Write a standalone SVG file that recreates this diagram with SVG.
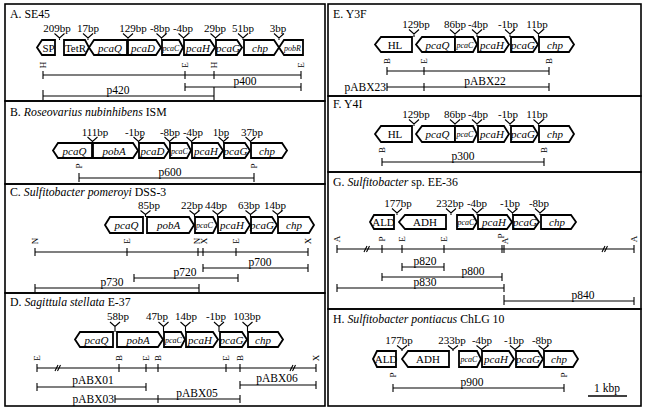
<svg xmlns="http://www.w3.org/2000/svg" width="646" height="410" viewBox="0 0 646 410">
<style>
.box{fill:none;stroke:#000;stroke-width:1.6}
.g{fill:#fff;stroke:#000;stroke-width:1.8;stroke-linejoin:miter}
.ln{stroke:#000;stroke-width:1.1;fill:none}
text{font-family:"Liberation Serif","Times New Roman",serif;fill:#000}
.ti{font-size:11.8px}
.bp{font-size:11px;text-anchor:middle}
.gn{font-size:11px;font-style:italic;text-anchor:middle}
.gs{font-size:8px;font-style:italic;text-anchor:middle}
.gu{font-size:11px;text-anchor:middle}
.s{font-size:9px;text-anchor:middle}
.pl{font-size:11.5px;text-anchor:middle}
.pe{font-size:11.5px;text-anchor:end}
</style>
<rect width="646" height="410" fill="#fff"/>
<g id="panels">
<rect class="box" x="5" y="4" width="320" height="97"/>
<rect class="box" x="5" y="101" width="320" height="83"/>
<rect class="box" x="5" y="184" width="320" height="109"/>
<rect class="box" x="5" y="293" width="320" height="113"/>
<rect class="box" x="328" y="4" width="313" height="92"/>
<rect class="box" x="328" y="96" width="313" height="76"/>
<rect class="box" x="328" y="172" width="313" height="137"/>
<rect class="box" x="328" y="309" width="313" height="97"/>
</g>
<g id="titles">
<text class="ti" x="10" y="18">A. SE45</text>
<text class="ti" x="10" y="116">B. <tspan font-style="italic">Roseovarius nubinhibens</tspan> ISM</text>
<text class="ti" x="10" y="195.5">C. <tspan font-style="italic">Sulfitobacter pomeroyi</tspan> DSS-3</text>
<text class="ti" x="10" y="306">D. <tspan font-style="italic">Sagittula stellata</tspan> E-37</text>
<text class="ti" x="333" y="18">E. Y3F</text>
<text class="ti" x="333" y="108">F. Y4I</text>
<text class="ti" x="333" y="186">G. <tspan font-style="italic">Sulfitobacter</tspan> sp. EE-36</text>
<text class="ti" x="333" y="323">H. <tspan font-style="italic">Sulfitobacter pontiacus</tspan> ChLG 10</text>
</g>

<!-- Panel A genes -->
<g id="A-SP"><polygon class="g" points="37,47.5 42,40 55,40 55,55 42,55"/><text class="gu" x="48.5" y="51.5">SP</text></g>
<g id="A-TetR"><polygon class="g" points="64,40 85,40 89,47.5 85,55 64,55"/><text class="gu" x="75.5" y="51.5" font-size="10">TetR</text></g>
<g id="A-pcaQ"><polygon class="g" points="89,47.5 94,40 127,40 127,55 94,55"/><text class="gn" x="110" y="51.5">pcaQ</text></g>
<g id="A-pcaD"><polygon class="g" points="128,40 156,40 161,47.5 156,55 128,55"/><text class="gn" x="143" y="51.5">pcaD</text></g>
<g id="A-pcaC"><polygon class="g" points="162,40 179,40 183,47.5 179,55 162,55"/><text class="gs" x="171" y="50.5">pcaC</text></g>
<g id="A-pcaH"><polygon class="g" points="184,40 210,40 215,47.5 210,55 184,55"/><text class="gn" x="198" y="51.5">pcaH</text></g>
<g id="A-pcaG"><polygon class="g" points="216,40 237,40 242,47.5 237,55 216,55"/><text class="gn" x="228" y="51.5">pcaG</text></g>
<g id="A-chp"><polygon class="g" points="244,40 274,40 279,47.5 274,55 244,55"/><text class="gn" x="260" y="51.5">chp</text></g>
<g id="A-pobR"><polygon class="g" points="279,47.5 284,40 303,40 303,55 284,55"/><text class="gs" x="292.5" y="50.5" font-size="8.5">pobR</text></g>
<g id="A-bp">
<text class="bp" x="57" y="32">209bp</text><text class="bp" x="88" y="32">17bp</text><text class="bp" x="133" y="32">129bp</text><text class="bp" x="160" y="32">-8bp</text><text class="bp" x="183" y="32">-4bp</text><text class="bp" x="215" y="32">29bp</text><text class="bp" x="243" y="32">51bp</text><text class="bp" x="278" y="32">3bp</text>
</g>
<g id="A-sites">
<text class="s" transform="translate(43,65) rotate(-90)" dy="0.35em">H</text>
<text class="s" transform="translate(185,65) rotate(-90)" dy="0.35em">E</text>
<text class="s" transform="translate(214,65) rotate(-90)" dy="0.35em">H</text>
<text class="s" transform="translate(301,65) rotate(-90)" dy="0.35em">E</text>
<text class="pl" x="245" y="85">p400</text>
<text class="pl" x="118" y="94">p420</text>
</g>

<!-- Panel B genes -->
<g id="B-pcaQ"><polygon class="g" points="53,150.5 58,143 92,143 92,158 58,158"/><text class="gn" x="74.5" y="154.5">pcaQ</text></g>
<g id="B-pobA"><polygon class="g" points="93,143 133,143 138,150.5 133,158 93,158"/><text class="gn" x="114" y="154.5">pobA</text></g>
<g id="B-pcaD"><polygon class="g" points="139,143 164,143 169,150.5 164,158 139,158"/><text class="gn" x="152.5" y="154.5">pcaD</text></g>
<g id="B-pcaC"><polygon class="g" points="170,143 187,143 191,150.5 187,158 170,158"/><text class="gs" x="179.5" y="153.5">pcaC</text></g>
<g id="B-pcaH"><polygon class="g" points="192,143 218,143 223,150.5 218,158 192,158"/><text class="gn" x="206" y="154.5">pcaH</text></g>
<g id="B-pcaG"><polygon class="g" points="224,143 245,143 250,150.5 245,158 224,158"/><text class="gn" x="235.5" y="154.5">pcaG</text></g>
<g id="B-chp"><polygon class="g" points="251,143 282,143 287,150.5 282,158 251,158"/><text class="gn" x="267" y="154.5">chp</text></g>
<g id="B-bp">
<text class="bp" x="95" y="135.5">111bp</text><text class="bp" x="135" y="135.5">-1bp</text><text class="bp" x="170" y="135.5">-8bp</text><text class="bp" x="193" y="135.5">-4bp</text><text class="bp" x="221" y="135.5">1bp</text><text class="bp" x="252" y="135.5">37bp</text>
</g>
<g id="B-sites">
<text class="s" transform="translate(79,166) rotate(-90)" dy="0.35em">P</text>
<text class="s" transform="translate(254,166) rotate(-90)" dy="0.35em">P</text>
<text class="pl" x="170" y="176">p600</text>
</g>

<!-- Panel C genes -->
<g id="C-pcaQ"><polygon class="g" points="105,225 110,217 143,217 143,233 110,233"/><text class="gn" x="126.5" y="229">pcaQ</text></g>
<g id="C-pobA"><polygon class="g" points="147,217 189,217 194,225 189,233 147,233"/><text class="gn" x="168.5" y="229">pobA</text></g>
<g id="C-pcaC"><polygon class="g" points="195,217 213,217 217,225 213,233 195,233"/><text class="gs" x="204.5" y="228">pcaC</text></g>
<g id="C-pcaH"><polygon class="g" points="218,217 245,217 250,225 245,233 218,233"/><text class="gn" x="232" y="229">pcaH</text></g>
<g id="C-pcaG"><polygon class="g" points="251,217 272,217 277,225 272,233 251,233"/><text class="gn" x="262" y="229">pcaG</text></g>
<g id="C-chp"><polygon class="g" points="278,217 309,217 314,225 309,233 278,233"/><text class="gn" x="294" y="229">chp</text></g>
<g id="C-bp">
<text class="bp" x="149" y="209">85bp</text><text class="bp" x="192" y="209">22bp</text><text class="bp" x="216" y="209">44bp</text><text class="bp" x="249" y="209">63bp</text><text class="bp" x="275" y="209">14bp</text>
</g>
<g id="C-sites">
<text class="s" transform="translate(35,241) rotate(-90)" dy="0.35em">N</text>
<text class="s" transform="translate(127,241) rotate(-90)" dy="0.35em">E</text>
<text class="s" transform="translate(197,241) rotate(-90)" dy="0.35em">N</text>
<text class="s" transform="translate(204,241) rotate(-90)" dy="0.35em">X</text>
<text class="s" transform="translate(236,241) rotate(-90)" dy="0.35em">E</text>
<text class="s" transform="translate(308,241) rotate(-90)" dy="0.35em">X</text>
<text class="pl" x="260" y="266">p700</text>
<text class="pl" x="185" y="276">p720</text>
<text class="pl" x="112" y="286">p730</text>
</g>

<!-- Panel D genes -->
<g id="D-pcaQ"><polygon class="g" points="75,339.5 80,332 113,332 113,347 80,347"/><text class="gn" x="96.5" y="343.5">pcaQ</text></g>
<g id="D-pobA"><polygon class="g" points="117,332 158,332 163,339.5 158,347 117,347"/><text class="gn" x="138" y="343.5">pobA</text></g>
<g id="D-pcaC"><polygon class="g" points="164,332 181,332 185,339.5 181,347 164,347"/><text class="gs" x="173.5" y="342.5">pcaC</text></g>
<g id="D-pcaH"><polygon class="g" points="186,332 213,332 218,339.5 213,347 186,347"/><text class="gn" x="200" y="343.5">pcaH</text></g>
<g id="D-pcaG"><polygon class="g" points="220,332 242,332 247,339.5 242,347 220,347"/><text class="gn" x="231.5" y="343.5">pcaG</text></g>
<g id="D-chp"><polygon class="g" points="248,332 278,332 283,339.5 278,347 248,347"/><text class="gn" x="263" y="343.5">chp</text></g>
<g id="D-bp">
<text class="bp" x="118" y="320">58bp</text><text class="bp" x="157" y="320">47bp</text><text class="bp" x="186" y="320">14bp</text><text class="bp" x="216" y="320">-1bp</text><text class="bp" x="247" y="320">103bp</text>
</g>
<g id="D-sites">
<text class="s" transform="translate(37,358) rotate(-90)" dy="0.35em">E</text>
<text class="s" transform="translate(119,358) rotate(-90)" dy="0.35em">B</text>
<text class="s" transform="translate(146,358) rotate(-90)" dy="0.35em">E</text>
<text class="s" transform="translate(158,358) rotate(-90)" dy="0.35em">B</text>
<text class="s" transform="translate(226,358) rotate(-90)" dy="0.35em">E</text>
<text class="s" transform="translate(240,358) rotate(-90)" dy="0.35em">B</text>
<text class="s" transform="translate(316,358) rotate(-90)" dy="0.35em">X</text>
<text class="pl" x="93" y="384">pABX01</text>
<text class="pl" x="277" y="382">pABX06</text>
<text class="pe" x="114" y="403">pABX03</text>
<text class="pl" x="197" y="397">pABX05</text>
</g>

<!-- Panel E genes -->
<g id="E-HL"><polygon class="g" points="375,44.5 381,37 412,37 412,52 381,52"/><text class="gu" x="395" y="48.5">HL</text></g>
<g id="E-pcaQ"><polygon class="g" points="416,44.5 422,37 455,37 455,52 422,52"/><text class="gn" x="437.5" y="48.5">pcaQ</text></g>
<g id="E-pcaC"><polygon class="g" points="455,37 473,37 477,44.5 473,52 455,52"/><text class="gs" x="465" y="47.5">pcaC</text></g>
<g id="E-pcaH"><polygon class="g" points="478,37 504,37 509,44.5 504,52 478,52"/><text class="gn" x="492" y="48.5">pcaH</text></g>
<g id="E-pcaG"><polygon class="g" points="511,37 533,37 538,44.5 533,52 511,52"/><text class="gn" x="523" y="48.5">pcaG</text></g>
<g id="E-chp"><polygon class="g" points="539,37 569,37 574,44.5 569,52 539,52"/><text class="gn" x="555" y="48.5">chp</text></g>
<g id="E-bp">
<text class="bp" x="416" y="28">129bp</text><text class="bp" x="455" y="28">86bp</text><text class="bp" x="478" y="28">-4bp</text><text class="bp" x="508" y="28">-1bp</text><text class="bp" x="537" y="28">11bp</text>
</g>
<g id="E-sites">
<text class="s" transform="translate(387,61) rotate(-90)" dy="0.35em">B</text>
<text class="s" transform="translate(424,61) rotate(-90)" dy="0.35em">E</text>
<text class="s" transform="translate(549,61) rotate(-90)" dy="0.35em">B</text>
<text class="pe" x="386" y="91">pABX23</text>
<text class="pl" x="485" y="85">pABX22</text>
</g>

<!-- Panel F genes -->
<g id="F-HL"><polygon class="g" points="375,134 381,126 412,126 412,142 381,142"/><text class="gu" x="395" y="138">HL</text></g>
<g id="F-pcaQ"><polygon class="g" points="416,134 422,126 455,126 455,142 422,142"/><text class="gn" x="437.5" y="138">pcaQ</text></g>
<g id="F-pcaC"><polygon class="g" points="455,126 473,126 477,134 473,142 455,142"/><text class="gs" x="465" y="137">pcaC</text></g>
<g id="F-pcaH"><polygon class="g" points="478,126 504,126 509,134 504,142 478,142"/><text class="gn" x="492" y="138">pcaH</text></g>
<g id="F-pcaG"><polygon class="g" points="511,126 533,126 538,134 533,142 511,142"/><text class="gn" x="523" y="138">pcaG</text></g>
<g id="F-chp"><polygon class="g" points="539,126 569,126 574,134 569,142 539,142"/><text class="gn" x="555" y="138">chp</text></g>
<g id="F-bp">
<text class="bp" x="416" y="118">129bp</text><text class="bp" x="455" y="118">86bp</text><text class="bp" x="478" y="118">-4bp</text><text class="bp" x="508" y="118">-1bp</text><text class="bp" x="537" y="118">11bp</text>
</g>
<g id="F-sites">
<text class="s" transform="translate(382,150) rotate(-90)" dy="0.35em">B</text>
<text class="s" transform="translate(544,150) rotate(-90)" dy="0.35em">B</text>
<text class="pl" x="463" y="160">p300</text>
</g>

<!-- Panel G genes -->
<g id="G-ALD"><polygon class="g" points="370,222 374,215 394,215 394,229 374,229"/><text class="gu" x="383.5" y="225.5" font-size="9.5">ALD</text></g>
<g id="G-ADH"><polygon class="g" points="399,222 405,215 446,215 446,229 405,229"/><text class="gu" x="425" y="226">ADH</text></g>
<g id="G-pcaC"><polygon class="g" points="457,215 473,215 477,222 473,229 457,229"/><text class="gs" x="466" y="225">pcaC</text></g>
<g id="G-pcaH"><polygon class="g" points="478,215 507,215 512,222 507,229 478,229"/><text class="gn" x="494" y="226">pcaH</text></g>
<g id="G-pcaG"><polygon class="g" points="513,215 534,215 539,222 534,229 513,229"/><text class="gn" x="525" y="226">pcaG</text></g>
<g id="G-chp"><polygon class="g" points="541,215 571,215 576,222 571,229 541,229"/><text class="gn" x="557" y="226">chp</text></g>
<g id="G-bp">
<text class="bp" x="398" y="207">177bp</text><text class="bp" x="450" y="207">232bp</text><text class="bp" x="477" y="207">-4bp</text><text class="bp" x="510" y="207">-1bp</text><text class="bp" x="539" y="207">-8bp</text>
</g>
<g id="G-sites">
<text class="s" transform="translate(337,239) rotate(-90)" dy="0.35em">A</text>
<text class="s" transform="translate(382,239) rotate(-90)" dy="0.35em">P</text>
<text class="s" transform="translate(402,239) rotate(-90)" dy="0.35em">E</text>
<text class="s" transform="translate(444,239) rotate(-90)" dy="0.35em">E</text>
<text class="s" transform="translate(501,236) rotate(-90)" dy="0.35em">P</text>
<text class="s" transform="translate(505,241) rotate(-90)" dy="0.35em">A</text>
<text class="s" transform="translate(634,239) rotate(-90)" dy="0.35em">A</text>
<text class="pl" x="425" y="265">p820</text>
<text class="pl" x="473" y="275">p800</text>
<text class="pl" x="425" y="286">p830</text>
<text class="pl" x="583" y="299">p840</text>
</g>

<!-- Panel H genes -->
<g id="H-ALD"><polygon class="g" points="373,359 377,351 396,351 396,367 377,367"/><text class="gu" x="386" y="362.5" font-size="9.5">ALD</text></g>
<g id="H-ADH"><polygon class="g" points="402,359 408,351 449,351 449,367 408,367"/><text class="gu" x="428" y="363">ADH</text></g>
<g id="H-pcaC"><polygon class="g" points="459,351 477,351 481,359 477,367 459,367"/><text class="gs" x="469" y="362">pcaC</text></g>
<g id="H-pcaH"><polygon class="g" points="482,351 509,351 514,359 509,367 482,367"/><text class="gn" x="496" y="363">pcaH</text></g>
<g id="H-pcaG"><polygon class="g" points="516,351 538,351 543,359 538,367 516,367"/><text class="gn" x="528" y="363">pcaG</text></g>
<g id="H-chp"><polygon class="g" points="544,351 573,351 578,359 573,367 544,367"/><text class="gn" x="559" y="363">chp</text></g>
<g id="H-bp">
<text class="bp" x="399" y="344">177bp</text><text class="bp" x="452" y="344">233bp</text><text class="bp" x="482" y="344">-4bp</text><text class="bp" x="514" y="344">-1bp</text><text class="bp" x="542" y="344">-8bp</text>
</g>
<g id="H-sites">
<text class="s" transform="translate(393,375) rotate(-90)" dy="0.35em">P</text>
<text class="s" transform="translate(564,375) rotate(-90)" dy="0.35em">P</text>
<text class="pl" x="472" y="386">p900</text>
<text class="pl" x="607" y="392">1 kbp</text>
</g>

<g id="connectors" class="ln">
<path d="M54.5,33.5 L59.5,38 L64.5,33.5 M59.5,38 V40 M83,33.5 L88,38 L93,33.5 M88,38 V40 M123,33.5 L128,38 L133,33.5 M128,38 V40 M156.5,33.5 L161.5,38 L166.5,33.5 M161.5,38 V40 M178.5,33.5 L183.5,38 L188.5,33.5 M183.5,38 V40 M210.5,33.5 L215.5,38 L220.5,33.5 M215.5,38 V40 M238,33.5 L243,38 L248,33.5 M243,38 V40 M274,33.5 L279,38 L284,33.5 M279,38 V40"/>
<path d="M87.5,137 L92.5,141.5 L97.5,137 M92.5,141.5 V143 M133.5,137 L138.5,141.5 L143.5,137 M138.5,141.5 V143 M164.5,137 L169.5,141.5 L174.5,137 M169.5,141.5 V143 M186.5,137 L191.5,141.5 L196.5,137 M191.5,141.5 V143 M218.5,137 L223.5,141.5 L228.5,137 M223.5,141.5 V143 M245.5,137 L250.5,141.5 L255.5,137 M250.5,141.5 V143"/>
<path d="M140.5,210.5 L145.5,214.5 L150.5,210.5 M145.5,214.5 V217 M189.5,210.5 L194.5,214.5 L199.5,210.5 M194.5,214.5 V217 M212.5,210.5 L217.5,214.5 L222.5,210.5 M217.5,214.5 V217 M245.5,210.5 L250.5,214.5 L255.5,210.5 M250.5,214.5 V217 M272.5,210.5 L277.5,214.5 L282.5,210.5 M277.5,214.5 V217"/>
<path d="M110,322 L115,326.5 L120,322 M115,326.5 V332 M158.5,322 L163.5,326.5 L168.5,322 M163.5,326.5 V332 M180.5,322 L185.5,326.5 L190.5,322 M185.5,326.5 V332 M214,322 L219,326.5 L224,322 M219,326.5 V332 M242.5,322 L247.5,326.5 L252.5,322 M247.5,326.5 V332"/>
<path d="M409,29.5 L414,34 L419,29.5 M414,34 V37 M450,29.5 L455,34 L460,29.5 M455,34 V37 M472,29.5 L477,34 L482,29.5 M477,34 V37 M505,29.5 L510,34 L515,29.5 M510,34 V37 M533.5,29.5 L538.5,34 L543.5,29.5 M538.5,34 V37"/>
<path d="M409,119.5 L414,124 L419,119.5 M414,124 V126 M450,119.5 L455,124 L460,119.5 M455,124 V126 M472,119.5 L477,124 L482,119.5 M477,124 V126 M505,119.5 L510,124 L515,119.5 M510,124 V126 M533.5,119.5 L538.5,124 L543.5,119.5 M538.5,124 V126"/>
<path d="M392,208.5 L397,213 L402,208.5 M397,213 V215 M446,208.5 L451,213 L456,208.5 M451,213 V215 M472,208.5 L477,213 L482,208.5 M477,213 V215 M507.5,208.5 L512.5,213 L517.5,208.5 M512.5,213 V215 M535,208.5 L540,213 L545,208.5 M540,213 V215"/>
<path d="M397,345.5 L402,349.5 L407,345.5 M402,349.5 V351 M448,345.5 L453,349.5 L458,345.5 M453,349.5 V351 M476.5,345.5 L481.5,349.5 L486.5,345.5 M481.5,349.5 V351 M510,345.5 L515,349.5 L520,345.5 M515,349.5 V351 M538.5,345.5 L543.5,349.5 L548.5,345.5 M543.5,349.5 V351"/>
<path d="M43,75 H301 M43,71 V79 M185,71 V79 M214,71 V79 M301,71 V79"/>
<path d="M185,87 H301 M185,83 V91 M301,83 V91"/>
<path d="M43,96 H214 M43,90 V100 M214,87 V100"/>
<path d="M79,178 H254 M79,173 V182 M254,173 V182"/>
<path d="M35,252 H308 M35,248 V256 M127,248 V256 M198,248 V256 M203,248 V256 M236,248 V256 M308,248 V256"/>
<path d="M203,268 H308 M203,264 V272 M308,264 V272"/>
<path d="M134,278 H238 M134,274 V282 M238,274 V282"/>
<path d="M35,288 H199 M35,284 V292 M199,284 V292"/>
<path d="M37,368 H316 M37,364 V372 M119,364 V372 M146,364 V372 M158,364 V372 M226,364 V372 M240,364 V372 M316,364 V372"/>
<path d="M55,371 L58,365 M57.5,371 L60.5,365 M290,371 L293,365 M292.5,371 L295.5,365"/>
<path d="M37,387 H146 M37,383 V391 M146,383 V391"/>
<path d="M240,385 H316 M240,381 V389 M316,381 V389"/>
<path d="M115,399 H240 M115,395 V403 M158,395 V403 M240,395 V403"/>
<path d="M387,71 H549 M387,67 V75 M424,67 V75 M549,67 V75"/>
<path d="M387,87 H549 M387,83 V91 M424,83 V91 M549,83 V91"/>
<path d="M382,162 H544 M382,158 V166 M544,158 V166"/>
<path d="M337,249 H634 M337,245 V253 M382,245 V253 M402,245 V253 M444,245 V253 M502,245 V253 M504,245 V253 M634,245 V253"/>
<path d="M364,252 L367,246 M366.5,252 L369.5,246 M602,252 L605,246 M604.5,252 L607.5,246"/>
<path d="M402,267 H444 M402,263 V271 M444,263 V271"/>
<path d="M382,277 H502 M382,273 V281 M502,273 V281"/>
<path d="M337,288 H504 M337,284 V292 M504,284 V292"/>
<path d="M504,301 H634 M504,295 V305 M634,297 V305"/>
<path d="M393,388 H564 M393,384 V392 M564,384 V392"/>
<path d="M588,396 H627" stroke-width="1.4"/>
</g>
</svg>
